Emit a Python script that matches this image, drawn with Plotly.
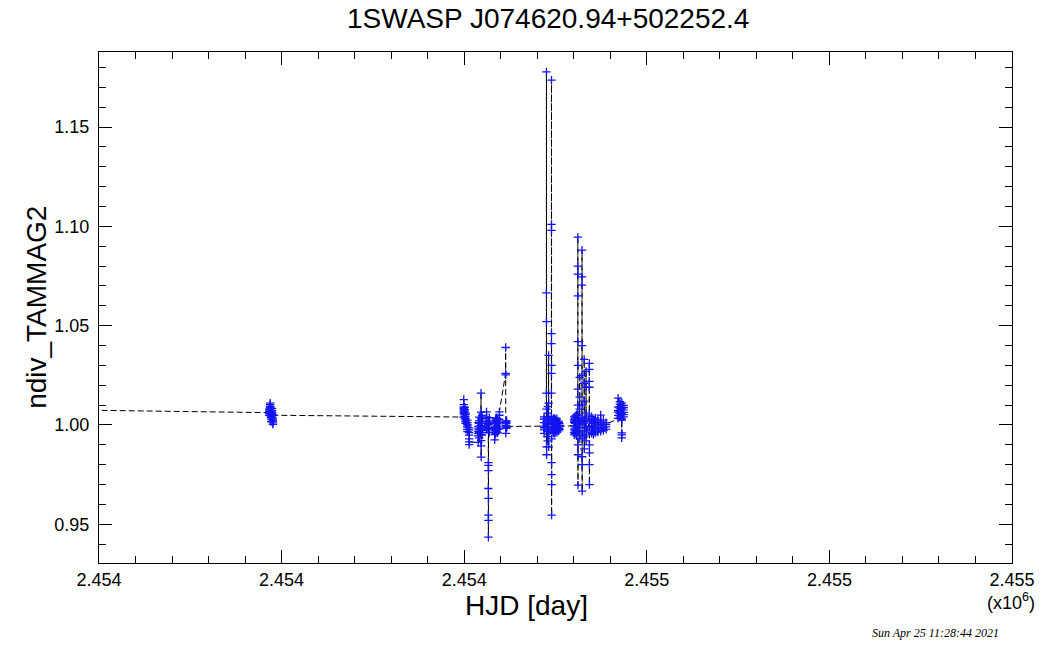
import plotly.graph_objects as go

# Light curve of 1SWASP J074620.94+502252.4
# Times are HJD - 2450000, values are ndiv_TAMMAG2 (normalised flux)
HJD_OFFSET = 2450000.0

# earlier season (lies left of the plotted window)
hjd_s0 = [3283.52, 3290.48]
flux_s0 = [1.0112, 1.0118]

# season 1
hjd_s1 = [4186.38, 4186.41, 4186.44, 4186.47, 4186.50, 4186.53,
          4187.37, 4187.40, 4187.43, 4187.46, 4187.49, 4187.52, 4187.55,
          4188.37, 4188.40, 4188.43, 4188.46, 4188.49, 4188.52, 4188.55,
          4189.38, 4189.41, 4189.44, 4189.47, 4189.50, 4189.53,
          4190.38, 4190.41, 4190.44, 4190.47, 4190.50, 4190.53]
flux_s1 = [1.0062, 1.0071, 1.0058, 1.0080, 1.0066, 1.0049,
           1.0090, 1.0076, 1.0102, 1.0085, 1.0069, 1.0093, 1.0110,
           1.0055, 1.0038, 1.0047, 1.0061, 1.0029, 1.0044, 1.0017,
           1.0072, 1.0058, 1.0083, 1.0064, 1.0040, 1.0052,
           1.0034, 1.0011, 1.0025, 1.0003, 1.0020, 1.0049]

# season 2, first part
hjd_s2a = [4399.36, 4399.39, 4399.42, 4399.45, 4399.48, 4399.51, 4399.54, 4399.57,
           4400.37, 4400.40, 4400.43, 4400.46, 4400.49, 4400.52, 4400.55,
           4401.37, 4401.40, 4401.43, 4401.46, 4401.49, 4401.52, 4401.55,
           4403.37, 4403.40, 4403.43, 4403.46, 4403.49, 4403.52, 4403.55,
           4405.37, 4405.40, 4405.43, 4405.46, 4405.49, 4405.52, 4405.55,
           4415.40, 4415.43, 4415.46, 4415.49, 4415.52, 4415.55, 4415.58,
           4416.40, 4416.43, 4416.46, 4416.49, 4416.52, 4416.55, 4416.58,
           4418.38, 4418.41, 4418.44, 4418.47, 4418.50, 4418.53, 4418.56, 4418.59, 4418.62,
           4419.40, 4419.43, 4419.46, 4419.49, 4419.52, 4419.55, 4419.58]
flux_s2a = [1.0040, 1.0066, 1.0083, 1.0102, 1.0091, 1.0128, 1.0075, 1.0058,
            1.0071, 1.0052, 1.0089, 1.0063, 1.0045, 1.0078, 1.0036,
            1.0030, 1.0052, 1.0017, 1.0041, 1.0008, 1.0026, 1.0060,
            1.0012, 0.9989, 1.0024, 0.9978, 1.0003, 0.9966, 0.9995,
            0.9985, 0.9962, 0.9901, 0.9949, 0.9975, 0.9930, 0.9915,
            0.9912, 0.9945, 0.9968, 0.9990, 1.0012, 0.9957, 0.9980,
            1.0021, 0.9994, 1.0040, 0.9963, 1.0008, 0.9935, 0.9976,
            0.9998, 1.0160, 1.0065, 1.0031, 0.9952, 0.9895, 0.9838, 0.9921, 0.9986,
            1.0017, 0.9973, 1.0035, 0.9949, 0.9991, 1.0048, 0.9962]

# season 2, second part
hjd_s2b = [4424.40, 4424.43, 4424.46, 4424.49, 4424.52, 4424.55, 4424.58, 4424.61,
           4426.36, 4426.39, 4426.42, 4426.45, 4426.48, 4426.51, 4426.54, 4426.57,
           4426.60, 4426.63, 4426.66, 4426.69,
           4427.42, 4427.45, 4427.48, 4427.51, 4427.54,
           4433.40, 4433.43, 4433.46, 4433.49, 4433.52, 4433.55,
           4434.40, 4434.43, 4434.46, 4434.49, 4434.52, 4434.55,
           4435.38, 4435.41, 4435.44, 4435.47, 4435.50, 4435.53, 4435.56,
           4436.40, 4436.43, 4436.46, 4436.49, 4436.52, 4436.55,
           4438.42, 4438.45, 4438.48, 4438.51, 4438.54,
           4445.36, 4445.39, 4445.42, 4445.45, 4445.48, 4445.51, 4445.54, 4445.57,
           4445.60, 4445.63,
           4446.42, 4446.45, 4446.48, 4446.51]
flux_s2b = [0.9995, 1.0032, 1.0066, 1.0019, 0.9978, 1.0041, 0.9986, 1.0008,
            1.0003, 0.9980, 0.9797, 0.9680, 0.9546, 0.9435, 0.9520, 0.9630,
            0.9770, 0.9810, 0.9975, 1.0012,
            1.0021, 0.9984, 1.0037, 0.9962, 1.0005,
            0.9978, 0.9925, 0.9951, 0.9987, 1.0012, 0.9964,
            1.0008, 0.9972, 1.0031, 0.9990, 0.9957, 1.0019,
            1.0025, 0.9983, 1.0010, 0.9968, 1.0036, 0.9995, 1.0014,
            0.9989, 1.0022, 0.9961, 1.0006, 1.0030, 0.9977,
            1.0013, 0.9980, 1.0028, 1.0049, 1.0066,
            1.0260, 1.0390, 1.0252, 1.0012, 0.9995, 1.0018, 0.9984, 0.9958,
            1.0006, 0.9994,
            1.0009, 0.9986, 1.0021, 0.9993]

# season 3, first part (two large excursions)
hjd_s3a = [4487.40, 4487.43, 4487.46, 4487.49, 4487.52, 4487.55, 4487.58,
           4490.00, 4490.03, 4490.06, 4490.09, 4490.12, 4490.15, 4490.18, 4490.21,
           4490.24, 4490.27,
           4491.38, 4491.41, 4491.44, 4491.47, 4491.50, 4491.53, 4491.56, 4491.59,
           4492.38, 4492.41, 4492.44, 4492.47, 4492.50, 4492.53, 4492.56, 4492.59,
           4495.50, 4495.52, 4495.54, 4495.56, 4495.58, 4495.60, 4495.62, 4495.64,
           4495.66, 4495.68, 4495.70, 4495.72, 4495.74, 4495.76, 4495.78, 4495.80,
           4497.40, 4497.43, 4497.46, 4497.49, 4497.52, 4497.55, 4497.58, 4497.61,
           4498.40, 4498.43, 4498.46, 4498.49, 4498.52, 4498.55, 4498.58, 4498.61,
           4499.40, 4499.43, 4499.46, 4499.49, 4499.52, 4499.55, 4499.58,
           4500.40, 4500.43, 4500.46, 4500.49, 4500.52, 4500.55, 4500.58,
           4501.40, 4501.43, 4501.46, 4501.49, 4501.52, 4501.55,
           4503.40, 4503.43, 4503.46, 4503.49, 4503.52, 4503.55,
           4504.40, 4504.43, 4504.46, 4504.49]
flux_s3a = [0.9994, 1.0012, 0.9975, 1.0030, 0.9958, 1.0041, 0.9986,
            1.0005, 1.0160, 1.0665, 1.1778, 1.0520, 1.0080, 0.9990, 0.9890,
            0.9850, 1.0020,
            0.9968, 1.0038, 0.9942, 1.0011, 0.9920, 1.0060, 0.9985, 1.0092,
            1.0025, 0.9975, 1.0350, 1.0110, 0.9955, 1.0042, 0.9890, 1.0003,
            1.0040, 1.0160, 1.0260, 1.0410, 1.0460, 1.0980, 1.1736, 1.1010,
            1.0300, 1.0010, 0.9810, 0.9750, 0.9546, 0.9700, 0.9930, 1.0005,
            1.0012, 0.9978, 1.0030, 0.9961, 1.0004, 0.9987, 1.0022, 0.9969,
            0.9992, 1.0027, 0.9965, 1.0010, 0.9982, 1.0034, 0.9958, 1.0001,
            1.0018, 0.9975, 1.0008, 0.9960, 1.0029, 0.9990, 1.0015,
            0.9984, 1.0021, 0.9967, 1.0006, 0.9979, 1.0025, 0.9996,
            1.0010, 0.9972, 1.0031, 0.9988, 0.9963, 1.0016,
            0.9995, 1.0019, 0.9970, 1.0008, 0.9983, 1.0012,
            0.9990, 1.0006, 0.9978, 0.9995]

# season 3, second part
hjd_s3b = [4520.40, 4520.43, 4520.46, 4520.49, 4520.52, 4520.55, 4520.58, 4520.61,
           4521.40, 4521.43, 4521.46, 4521.49, 4521.52, 4521.55, 4521.58,
           4523.00, 4523.03, 4523.06, 4523.09, 4523.12, 4523.15,
           4524.40, 4524.42, 4524.44, 4524.46, 4524.48, 4524.50, 4524.52, 4524.54,
           4524.56, 4524.58, 4524.60, 4524.62, 4524.64, 4524.66,
           4526.40, 4526.43, 4526.46, 4526.49, 4526.52, 4526.55, 4526.58, 4526.61,
           4529.00, 4529.02, 4529.04, 4529.06, 4529.08, 4529.10, 4529.12, 4529.14,
           4529.16, 4529.18, 4529.20, 4529.22,
           4531.40, 4531.43, 4531.46, 4531.49, 4531.52, 4531.55, 4531.58, 4531.61,
           4533.40, 4533.43, 4533.46, 4533.49, 4533.52, 4533.55, 4533.58, 4533.61,
           4537.00, 4537.02, 4537.04, 4537.06, 4537.08, 4537.10, 4537.12, 4537.14,
           4537.16, 4537.18, 4537.20,
           4539.40, 4539.43, 4539.46, 4539.49, 4539.52, 4539.55, 4539.58,
           4541.40, 4541.43, 4541.46, 4541.49, 4541.52, 4541.55,
           4543.40, 4543.43, 4543.46, 4543.49, 4543.52,
           4546.40, 4546.43, 4546.46, 4546.49, 4546.52, 4546.55,
           4549.40, 4549.43, 4549.46, 4549.49, 4549.52,
           4552.40, 4552.43, 4552.46, 4552.49,
           4555.40, 4555.43, 4555.46, 4555.49]
flux_s3b = [0.9995, 1.0028, 0.9962, 1.0041, 0.9979, 1.0013, 0.9950, 1.0020,
            1.0008, 0.9971, 1.0035, 0.9956, 1.0019, 0.9984, 1.0046,
            0.9992, 1.0052, 0.9968, 1.0027, 0.9945, 1.0010,
            1.0030, 1.0180, 1.0420, 1.0800, 1.0946, 1.0650, 1.0100, 1.0760,
            1.0050, 1.0300, 0.9900, 0.9697, 0.9850, 1.0010,
            1.0015, 0.9960, 1.0080, 1.0240, 1.0140, 0.9985, 0.9930, 1.0020,
            1.0040, 1.0250, 1.0704, 1.0880, 1.0746, 1.0400, 1.0100, 0.9950,
            0.9840, 0.9667, 0.9800, 1.0005,
            1.0010, 1.0330, 1.0210, 1.0120, 0.9970, 0.9880, 0.9940, 1.0025,
            0.9985, 1.0190, 1.0270, 1.0060, 0.9920, 0.9970, 1.0035, 0.9950,
            1.0020, 1.0190, 1.0280, 1.0310, 1.0220, 1.0050, 0.9900, 0.9800,
            0.9700, 0.9860, 0.9995,
            0.9990, 1.0031, 0.9962, 1.0018, 0.9975, 1.0042, 0.9958,
            1.0008, 0.9969, 1.0027, 0.9985, 0.9952, 1.0014,
            0.9978, 1.0021, 0.9960, 1.0035, 0.9992,
            1.0012, 0.9975, 1.0026, 0.9964, 1.0003, 0.9989,
            0.9981, 1.0016, 0.9968, 1.0050, 0.9995,
            1.0009, 0.9972, 1.0024, 0.9987,
            0.9990, 1.0012, 0.9978, 1.0002]

# season 3, last nights
hjd_s3c = [4568.50, 4568.53, 4568.56, 4568.59, 4568.62, 4568.65,
           4570.45, 4570.48, 4570.51, 4570.54, 4570.57, 4570.60, 4570.63,
           4572.45, 4572.48, 4572.51, 4572.54, 4572.57, 4572.60, 4572.63, 4572.66,
           4574.50, 4574.53, 4574.56, 4574.59, 4574.62, 4574.65]
flux_s3c = [1.0033, 1.0065, 1.0090, 1.0135, 1.0072, 1.0048,
            1.0081, 1.0104, 1.0058, 1.0117, 1.0069, 1.0092, 1.0040,
            1.0060, 1.0025, 0.9960, 0.9935, 0.9950, 1.0030, 1.0085, 1.0110,
            1.0076, 1.0052, 1.0098, 1.0063, 1.0041, 1.0087]

# axis ticks
x_tickvals = [2454000, 2454200, 2454400, 2454600, 2454800, 2455000]
x_ticktext = ["2.454", "2.454", "2.454", "2.455", "2.455", "2.455"]
y_tickvals = [0.95, 1.00, 1.05, 1.10, 1.15]
y_ticktext = ["0.95", "1.00", "1.05", "1.10", "1.15"]

hjd_red = hjd_s0 + hjd_s1 + hjd_s2a + hjd_s2b + hjd_s3a + hjd_s3b + hjd_s3c
flux = flux_s0 + flux_s1 + flux_s2a + flux_s2b + flux_s3a + flux_s3b + flux_s3c
hjd = [t + HJD_OFFSET for t in hjd_red]

FONT = "Liberation Sans, Arial, Helvetica, sans-serif"

fig = go.Figure()
fig.add_trace(go.Scatter(
    x=hjd, y=flux, mode="lines+markers",
    line=dict(color="black", width=1, dash="6px,3px"),
    marker=dict(symbol="cross-thin", size=6, color="#1414f0",
                line=dict(color="#1414f0", width=1.3)),
    showlegend=False,
))

axis_common = dict(
    showline=True, linecolor="black", linewidth=1, mirror="ticks",
    ticks="inside", ticklen=13, tickwidth=1, tickcolor="black",
    showgrid=False, zeroline=False,
    tickfont=dict(family=FONT, size=18, color="black"),
)

fig.update_xaxes(
    range=[2454000, 2455000], tickmode="array",
    tickvals=x_tickvals, ticktext=x_ticktext,
    minor=dict(tickmode="linear", tick0=2454000, dtick=40,
               ticks="inside", ticklen=7, tickwidth=1, tickcolor="black"),
    **axis_common,
)
fig.update_yaxes(
    range=[0.9305, 1.1878], tickmode="array",
    tickvals=y_tickvals, ticktext=y_ticktext,
    minor=dict(tickmode="linear", tick0=0.95, dtick=0.01,
               ticks="inside", ticklen=7, tickwidth=1, tickcolor="black"),
    ticklabelstandoff=5,
    **axis_common,
)

annotations = [
    dict(text="1SWASP J074620.94+502252.4", x=0.4913, y=1.0646,
         font=dict(family=FONT, size=28, color="black")),
    dict(text="HJD [day]", x=0.4684, y=-0.0841,
         font=dict(family=FONT, size=28, color="black")),
    dict(text="ndiv_TAMMAG2", x=-0.0686, y=0.500, textangle=-90,
         font=dict(family=FONT, size=28, color="black")),
    dict(text="(x10<sup>6</sup>)", x=0.9989, y=-0.0763,
         font=dict(family=FONT, size=18, color="black")),
    dict(text="<i>Sun Apr 25 11:28:44 2021</i>", x=0.916, y=-0.137,
         font=dict(family="Liberation Serif, Times New Roman, serif", size=12,
                   color="black")),
]
for a in annotations:
    a.update(xref="paper", yref="paper", showarrow=False,
             xanchor="center", yanchor="middle")

fig.update_layout(
    width=1047, height=647,
    margin=dict(l=99, r=30, t=52, b=84),
    paper_bgcolor="white", plot_bgcolor="white",
    annotations=annotations,
)

fig.write_html("out.html")
